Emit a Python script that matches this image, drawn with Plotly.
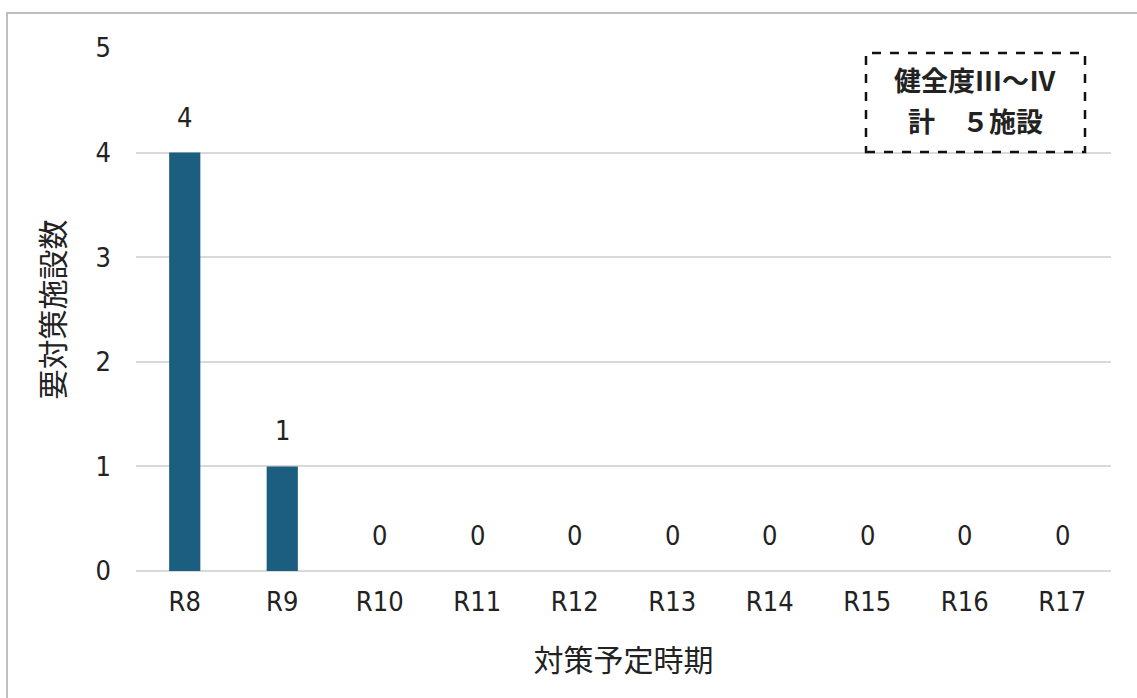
import plotly.graph_objects as go

categories = ["R8", "R9", "R10", "R11", "R12", "R13", "R14", "R15", "R16", "R17"]
values = [4, 1, 0, 0, 0, 0, 0, 0, 0, 0]
y_ticks = [0, 1, 2, 3, 4, 5]
x_title = "対策予定時期"
y_title = "要対策施設数"
box_lines = ["健全度Ⅲ～Ⅳ", "計　５施設"]

FONT = "Noto Sans CJK JP, Noto Sans, sans-serif"
NUMFONT = "Liberation Sans Narrow, DejaVu Sans Condensed, Noto Sans CJK JP, sans-serif"
BAR = "#1b5e80"
GRID = "#d9d9d9"
TXT = "#222222"

fig = go.Figure()
fig.add_trace(go.Bar(x=categories, y=values, marker=dict(color=BAR, line=dict(width=0)),
                     hoverinfo="skip"))

for c, v in zip(categories, values):
    fig.add_annotation(x=c, y=v, text=str(v), showarrow=False, yanchor="bottom",
                       yshift=18, font=dict(family=NUMFONT, size=27, color=TXT))

L, R, T, B = 136, 26, 48, 127
W, H = 1137, 698
pw, ph = W - L - R, H - T - B

def px(x):
    return (x - L) / pw

def py(y):
    return (H - B - y) / ph

# outer border
fig.add_shape(type="rect", xref="paper", yref="paper",
              x0=px(7), x1=px(1145), y0=py(705), y1=py(13),
              line=dict(color="#bfbfbf", width=2), fillcolor="rgba(0,0,0,0)", layer="below")

# dashed box
fig.add_shape(type="rect", xref="paper", yref="paper",
              x0=px(866), x1=px(1085), y0=py(152), y1=py(53),
              line=dict(color="#111111", width=2.5, dash="dash"), fillcolor="white")
for line_text, ypix in zip(box_lines, [79, 120]):
    fig.add_annotation(xref="paper", yref="paper", x=px(975), y=py(ypix),
                       text="<b>" + line_text + "</b>", showarrow=False,
                       align="center", xanchor="center", yanchor="middle",
                       font=dict(family=FONT, size=27, color=TXT))

fig.update_layout(
    width=W, height=H,
    margin=dict(l=L, r=R, t=T, b=B, pad=0),
    paper_bgcolor="white", plot_bgcolor="white",
    bargap=0.68, showlegend=False,
    font=dict(family=FONT, size=20, color=TXT),
    xaxis=dict(
        title=dict(text=x_title, font=dict(family=FONT, size=30, color=TXT), standoff=33),
        tickfont=dict(family=NUMFONT, size=27, color=TXT),
        showgrid=False, zeroline=False, showline=False, ticks="",
        ticklabelstandoff=12,
    ),
    yaxis=dict(
        title=dict(text=y_title, font=dict(family=FONT, size=30, color=TXT), standoff=22),
        range=[0, 5], tickvals=y_ticks, ticktext=[str(t) for t in y_ticks],
        tickfont=dict(family=NUMFONT, size=27, color=TXT),
        showgrid=True, gridcolor=GRID, gridwidth=2,
        zeroline=True, zerolinecolor=GRID, zerolinewidth=2,
        showline=False, ticks="", ticklabelstandoff=24,
    ),
)

fig.write_html("out.html")
